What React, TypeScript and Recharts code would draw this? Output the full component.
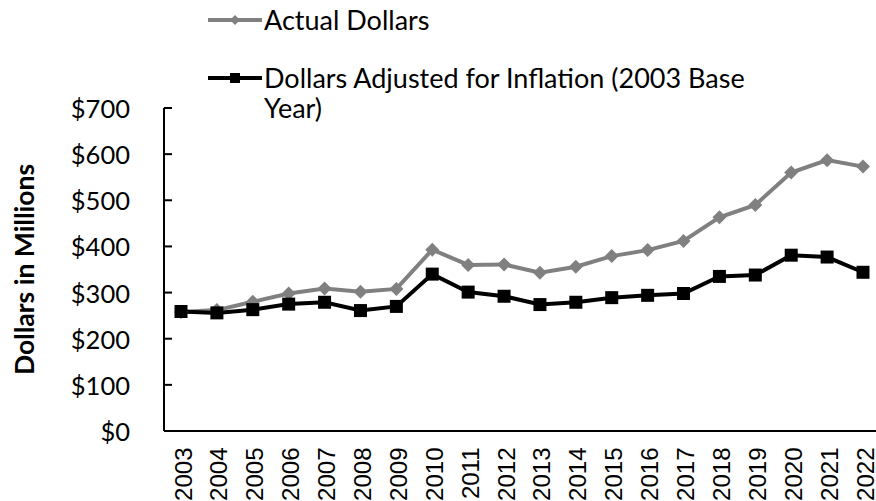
import React from "react";
import { LineChart, Line, XAxis, YAxis } from "recharts";

const years = ["2003","2004","2005","2006","2007","2008","2009","2010","2011","2012","2013","2014","2015","2016","2017","2018","2019","2020","2021","2022"];
const actualDollars = [258, 262, 280, 298, 309, 302, 308, 393, 360, 361, 343, 356, 379, 392, 412, 463, 490, 560, 587, 573];
const adjustedDollars = [259, 256, 263, 275, 279, 261, 270, 340, 301, 292, 274, 279, 289, 294, 298, 335, 338, 381, 377, 344];
const yTicks = [0, 100, 200, 300, 400, 500, 600, 700];
const seriesNames = ["Actual Dollars", "Dollars Adjusted for Inflation (2003 Base Year)"];

const data = years.map((y, i) => ({ year: y, actual: actualDollars[i], adjusted: adjustedDollars[i] }));

const GRAY = "#808080";
const BLACK = "#000000";

const Diamond = (props: any) => {
  const { cx, cy } = props;
  if (cx == null || cy == null) return null;
  const r = 7;
  return <path d={`M${cx},${cy - r}L${cx + r},${cy}L${cx},${cy + r}L${cx - r},${cy}Z`} fill={GRAY} stroke="none" />;
};
const Square = (props: any) => {
  const { cx, cy } = props;
  if (cx == null || cy == null) return null;
  const s = 6.5;
  return <rect x={cx - s} y={cy - s} width={2 * s} height={2 * s} fill={BLACK} stroke="none" />;
};

const YTick = (props: any) => {
  const { x, y, payload } = props;
  const margin = 34;
  return (
    <g>
      <line x1={x + margin} x2={x + margin + 8} y1={y} y2={y} stroke="#000" strokeWidth={2} />
      <text x={x} y={y} textAnchor="end" dominantBaseline="central" fontFamily="Lato" fontSize={25.5} fill="#000">
        {"$" + payload.value}
      </text>
    </g>
  );
};

const XTick = (props: any) => {
  const { x, y, payload } = props;
  return (
    <text x={x} y={y} dy={2} transform={`rotate(-90, ${x}, ${y})`} textAnchor="end" dominantBaseline="central" fontFamily="Liberation Sans" fontSize={24} fill="#000">
      {payload.value}
    </text>
  );
};

const LegendBox = () => {
  const item = (name: string, color: string, marker: "diamond" | "square", top: number) => (
    <div style={{ position: "absolute", left: 0, top, display: "flex", alignItems: "flex-start" }}>
      <svg width={58} height={30} style={{ flex: "none" }}>
        <line x1={2} x2={56} y1={15} y2={15} stroke={color} strokeWidth={4} />
        {marker === "diamond" ? (
          <path d="M29,10L34,15L29,20L24,15Z" fill={color} />
        ) : (
          <rect x={24} y={10} width={10} height={10} fill={color} />
        )}
      </svg>
      <div style={{ fontFamily: "Lato", fontSize: 27, lineHeight: "30px", color: "#000", width: 500 }}>{name}</div>
    </div>
  );
  return (
    <div style={{ position: "absolute", left: 206, top: 0, width: 570, height: 130 }}>
      {item(seriesNames[0], GRAY, "diamond", 5)}
      {item(seriesNames[1], BLACK, "square", 63)}
    </div>
  );
};

export default function App() {
  return (
    <div style={{ position: "absolute", left: 0, top: 0, width: 876, height: 501, background: "#fff", overflow: "hidden" }}>
      <LineChart width={876} height={501} data={data} margin={{ top: 108, right: 0, bottom: 0, left: 0 }}>
        <XAxis
          dataKey="year"
          height={70}
          padding={{ left: 17, right: 13 }}
          tickLine={false}
          tickSize={0}
          tickMargin={16.5}
          interval={0}
          tick={<XTick />}
          axisLine={{ stroke: "#000", strokeWidth: 2 }}
        />
        <YAxis
          width={164}
          domain={[0, 700]}
          ticks={yTicks}
          interval={0}
          tickLine={false}
          tickSize={0}
          tickMargin={34}
          tick={<YTick />}
          axisLine={{ stroke: "#000", strokeWidth: 2 }}
          label={{
            content: (p: any) => {
              const vb = p.viewBox;
              const cx = vb.x + 24;
              const cy = vb.y + vb.height / 2;
              return (
                <text x={cx} y={cy} transform={`rotate(-90, ${cx}, ${cy})`} textAnchor="middle" dominantBaseline="central" fontFamily="Lato" fontWeight="bold" fontSize={26.5} fill="#000">
                  Dollars in Millions
                </text>
              );
            },
          }}
        />
        <Line dataKey="actual" name={seriesNames[0]} stroke={GRAY} strokeWidth={4} dot={<Diamond />} activeDot={false} isAnimationActive={false} />
        <Line dataKey="adjusted" name={seriesNames[1]} stroke={BLACK} strokeWidth={4} dot={<Square />} activeDot={false} isAnimationActive={false} />
      </LineChart>
      <LegendBox />
    </div>
  );
}
